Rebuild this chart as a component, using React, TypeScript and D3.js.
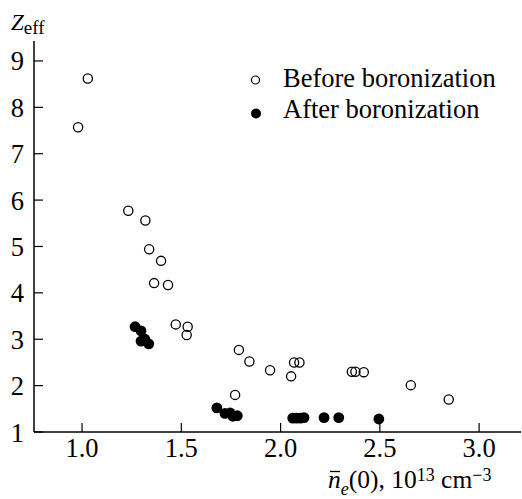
import React from "react";
import * as d3 from "d3";

const beforeX = [0.98, 1.029, 1.233, 1.319, 1.338, 1.398, 1.363, 1.433, 1.472, 1.532, 1.527, 1.79, 1.843, 1.947, 2.068, 2.095, 2.053, 1.771, 2.359, 2.377, 2.419, 2.656, 2.847];
const beforeY = [7.57, 8.62, 5.77, 5.56, 4.94, 4.69, 4.21, 4.17, 3.32, 3.27, 3.09, 2.77, 2.52, 2.33, 2.5, 2.5, 2.2, 1.8, 2.3, 2.3, 2.29, 2.01, 1.7];
const afterX = [1.267, 1.297, 1.297, 1.317, 1.336, 1.679, 1.72, 1.746, 1.759, 1.782, 2.061, 2.08, 2.1, 2.118, 2.219, 2.293, 2.495];
const afterY = [3.27, 3.18, 2.96, 3.0, 2.9, 1.52, 1.4, 1.41, 1.34, 1.35, 1.3, 1.3, 1.3, 1.31, 1.31, 1.31, 1.28];
const xTicks = [1.0, 1.5, 2.0, 2.5, 3.0];
const yTicks = [1, 2, 3, 4, 5, 6, 7, 8, 9];
const legendLabels = ["Before boronization", "After boronization"];

const W = 522;
const H = 499;
const left = 34;
const right = 521;
const top = 41;
const bottom = 432;
const tick = 9;
const ts = { fontFamily: "Liberation Serif" };

export default function App() {
  const x = d3.scaleLinear().domain([0.758, 3.211]).range([left, right]);
  const y = d3.scaleLinear().domain([1, 9.43]).range([bottom, top]);
  const before = beforeX.map((v, i) => [v, beforeY[i]]);
  const after = afterX.map((v, i) => [v, afterY[i]]);
  return (
    <svg width={W} height={H} style={{ position: "absolute", left: 0, top: 0 }}>
      <rect width={W} height={H} fill="#fff" />
      <line x1={left} x2={left} y1={top} y2={bottom} stroke="#000" strokeWidth={1.5} />
      <line x1={left} x2={right} y1={bottom} y2={bottom} stroke="#000" strokeWidth={1.5} />
      {yTicks.map((t) => (
        <g key={"y" + t}>
          <line x1={left} x2={left + tick} y1={y(t)} y2={y(t)} stroke="#000" strokeWidth={1.2} />
          <text x={24} y={y(t) + 9.5} fontSize={26.5} textAnchor="end" style={ts}>{t}</text>
        </g>
      ))}
      {xTicks.map((t) => (
        <g key={"x" + t}>
          <line x1={x(t)} x2={x(t)} y1={bottom} y2={bottom - tick} stroke="#000" strokeWidth={1.2} />
          <text x={x(t)} y={bottom + 25} fontSize={26.5} textAnchor="middle" style={ts}>{t.toFixed(1)}</text>
        </g>
      ))}
      <text x={11} y={29.5} fontSize={23} style={ts}>
        <tspan fontStyle="italic">Z</tspan>
        <tspan fontSize={19} dy={4}>eff</tspan>
      </text>
      <text x={328} y={488} fontSize={25.5} style={ts}>
        <tspan fontStyle="italic">n</tspan>
        <tspan fontSize={18} dy={7} fontStyle="italic">e</tspan>
        <tspan dy={-7}>(0), 10</tspan>
        <tspan fontSize={18} dy={-7}>13</tspan>
        <tspan dy={7}> cm</tspan>
        <tspan fontSize={18} dy={-7}>−3</tspan>
      </text>
      <line x1={330} x2={340} y1={471.5} y2={471.5} stroke="#000" strokeWidth={1.3} />
      {before.map((d, i) => (
        <circle key={"b" + i} cx={x(d[0])} cy={y(d[1])} r={4.6} fill="none" stroke="#000" strokeWidth={1.3} />
      ))}
      {after.map((d, i) => (
        <circle key={"a" + i} cx={x(d[0])} cy={y(d[1])} r={5.4} fill="#000" />
      ))}
      <circle cx={255.5} cy={80} r={4} fill="none" stroke="#000" strokeWidth={1.2} />
      <circle cx={256} cy={113.5} r={5} fill="#000" />
      <text x={283} y={86.7} fontSize={26.5} style={ts}>{legendLabels[0]}</text>
      <text x={283} y={118.3} fontSize={26.5} style={ts}>{legendLabels[1]}</text>
    </svg>
  );
}
